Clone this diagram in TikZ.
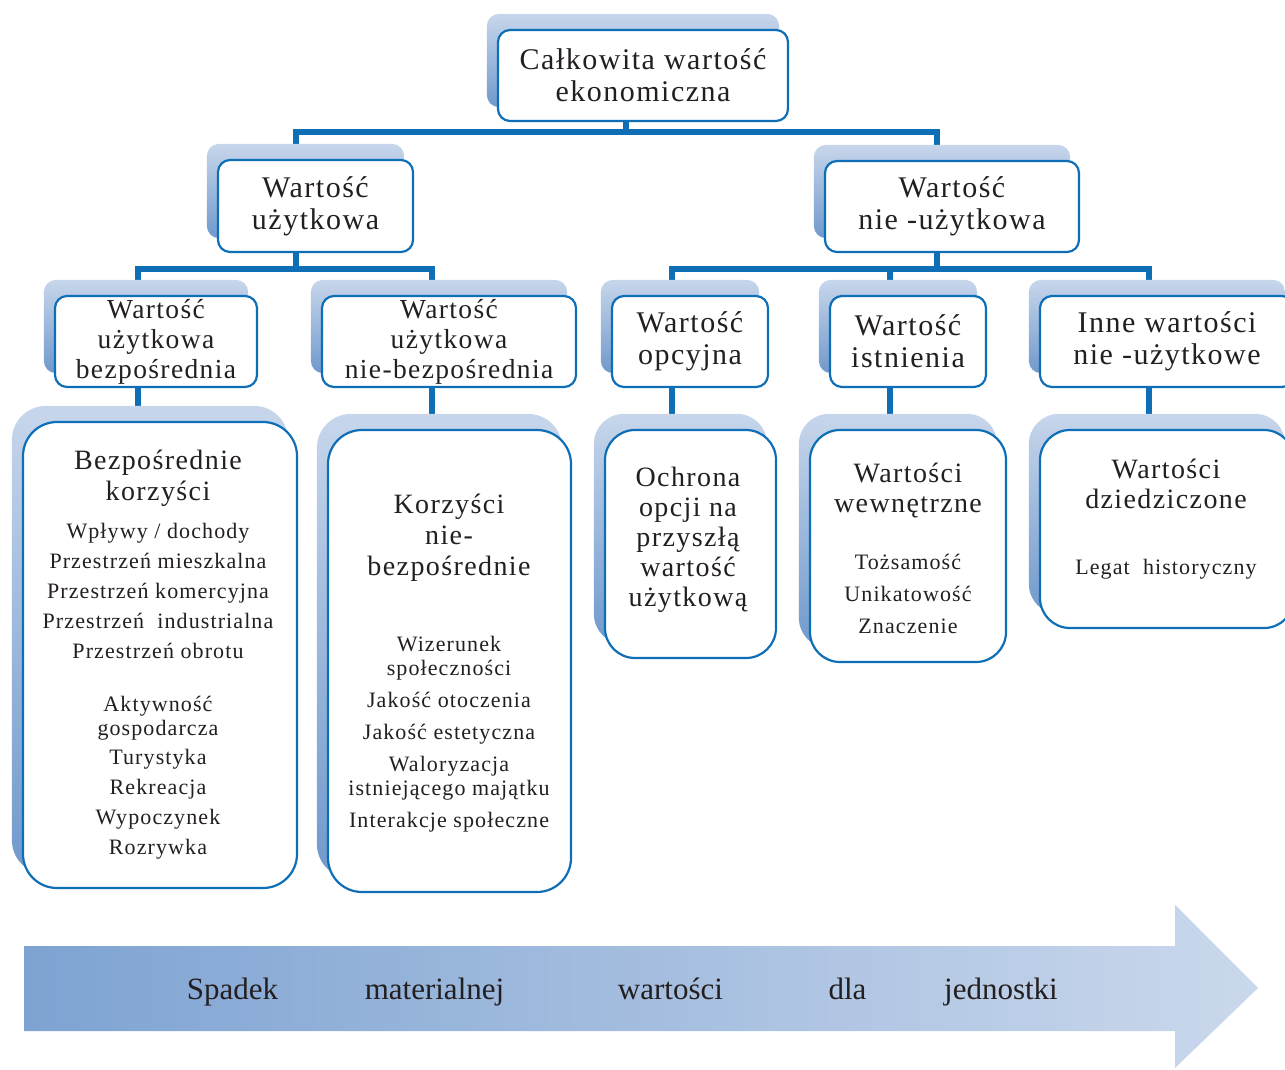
\documentclass[tikz,border=0pt]{standalone}
\usepackage{fontspec}
\setmainfont[LetterSpace=5]{Liberation Serif}
\newfontfamily\arrowfont{Liberation Serif}
\usetikzlibrary{calc}
\definecolor{bblue}{HTML}{0E6FB7}
\definecolor{shtop}{HTML}{C7D6EB}
\definecolor{shbot}{HTML}{7099CC}
\definecolor{txt}{HTML}{231F20}
\definecolor{arL}{HTML}{7EA3D2}
\definecolor{arR}{HTML}{CAD8EC}
\pgfdeclarelayer{bg}
\pgfsetlayers{bg,main}
\newcommand\fsA{\fontsize{30}{32}\selectfont}
\newcommand\fsB{\fontsize{27.5}{30}\selectfont}
\newcommand\fsH{\fontsize{28}{31}\selectfont}
\begin{document}
\begin{tikzpicture}[x=1pt,y=-1pt,
  box/.style={draw=bblue, line width=2.2pt, fill=white, rounded corners=12pt, text=txt, align=center, inner sep=0pt},
  bigbox/.style={box, rounded corners=34pt},
  conn/.style={draw=bblue, line width=6.5pt},
  shadowbox/.style={top color=shtop, bottom color=shbot, draw=none},
  txtnode/.style={text=txt, align=center, inner sep=0pt},
  arrowtxt/.style={text=txt, inner sep=0pt, anchor=base, font=\arrowfont\fontsize{31}{36}\selectfont},
]
\useasboundingbox (0,0) rectangle (1285,1070);

% arrow
\path[left color=arL, right color=arR] (24,946) -- (1175,946) -- (1175,905) -- (1258,988) -- (1175,1068) -- (1175,1031) -- (24,1031) -- cycle;
\node[arrowtxt] (s1) at (232.5,999) {Spadek};
\node[arrowtxt] (s2) at (434.5,999) {materialnej};
\node[arrowtxt] (s3) at (670.5,999) {wartości};
\node[arrowtxt] (s4) at (847.5,999) {dla};
\node[arrowtxt] (s5) at (1001,999) {jednostki};

% level 1-3 boxes
\node[box, minimum width=290, minimum height=91, font=\fsA] (top) at (643,75.5) {Całkowita wartość\\ekonomiczna};
\node[box, minimum width=195, minimum height=92, font=\fsA] (uz) at (315.5,206) {Wartość\\użytkowa};
\node[box, minimum width=254, minimum height=91, font=\fsA] (nuz) at (952,206.5) {Wartość\\nie -użytkowa};
\node[box, minimum width=202, minimum height=91, font=\fsB] (A) at (156,341.5) {Wartość\\użytkowa\\bezpośrednia};
\node[box, minimum width=254, minimum height=91, font=\fsB] (B) at (449,341.5) {Wartość\\użytkowa\\nie-bezpośrednia};
\node[box, minimum width=156, minimum height=91, font=\fsA] (C) at (690,341.5) {Wartość\\opcyjna};
\node[box, minimum width=156, minimum height=91, font=\fsA] (D) at (908,341.5) {Wartość\\istnienia};
\node[box, minimum width=254, minimum height=91, font=\fsA] (E) at (1167,341.5) {Inne wartości\\nie -użytkowe};

% level 4 boxes
\node[bigbox, minimum width=274, minimum height=466] (A4) at (160,655) {};
\node[bigbox, minimum width=243, minimum height=462] (B4) at (449.5,661) {};
\node[bigbox, rounded corners=30pt, minimum width=171, minimum height=228] (C4) at (690.5,544) {};
\node[bigbox, rounded corners=30pt, minimum width=196, minimum height=232] (D4) at (908,546) {};
\node[bigbox, rounded corners=30pt, minimum width=254, minimum height=198] (E4) at (1167,529) {};

% level 4 texts
\node[txtnode, font=\fontsize{22}{30}\selectfont] (A4t) at (158,655) {{\fsH Bezpośrednie}\\[1pt]{\fsH korzyści}\\[8pt]Wpływy / dochody\\Przestrzeń mieszkalna\\Przestrzeń komercyjna\\Przestrzeń~ industrialna\\Przestrzeń obrotu\\[23pt]Aktywność\\[-6pt]gospodarcza\\[-1pt]Turystyka\\Rekreacja\\Wypoczynek\\Rozrywka};
\node[txtnode, font=\fontsize{22}{32}\selectfont] (B4t) at (449,663) {{\fsH Korzyści}\\[-1pt]{\fsH nie-}\\[-1pt]{\fsH bezpośrednie}\\[44pt]Wizerunek\\[-8pt]społeczności\\Jakość otoczenia\\Jakość estetyczna\\Waloryzacja\\[-8pt]istniejącego majątku\\Interakcje społeczne};
\node[txtnode, font=\fontsize{28}{30}\selectfont] (C4t) at (688,540) {Ochrona\\opcji na\\przyszłą\\wartość\\użytkową};
\node[txtnode, font=\fontsize{22}{32}\selectfont] (D4t) at (908,548.5) {{\fsH Wartości}\\[-2pt]{\fsH wewnętrzne}\\[25pt]Tożsamość\\Unikatowość\\Znaczenie};
\node[txtnode, font=\fontsize{22}{30}\selectfont] (E4t) at (1166,519) {{\fsH Wartości}\\{\fsH dziedziczone}\\[36pt]Legat~ historyczny};

\begin{pgfonlayer}{bg}
  % connectors
  \draw[conn] ([xshift=-17pt]top.south) -- ++(0,10) -| ([xshift=-19.5pt]uz.north);
  \draw[conn] ([xshift=-17pt]top.south) -- ++(0,10) -| ([xshift=-15pt]nuz.north);
  \draw[conn] ([xshift=-19.5pt]uz.south) -- ++(0,16) -| ([xshift=-18pt]A.north);
  \draw[conn] ([xshift=-19.5pt]uz.south) -- ++(0,16) -| ([xshift=-17pt]B.north);
  \draw[conn] ([xshift=-15pt]nuz.south) -- ++(0,16) -| ([xshift=-18pt]C.north);
  \draw[conn] ([xshift=-15pt]nuz.south) -- ++(0,16) -| ([xshift=-18pt]D.north);
  \draw[conn] ([xshift=-15pt]nuz.south) -- ++(0,16) -| ([xshift=-18pt]E.north);
  \draw[conn] ([xshift=-18pt]A.south) -- ([xshift=-18pt]A.south |- A4.north);
  \draw[conn] ([xshift=-17pt]B.south) -- ([xshift=-17pt]B.south |- B4.north);
  \draw[conn] ([xshift=-18pt]C.south) -- ([xshift=-18pt]C.south |- C4.north);
  \draw[conn] ([xshift=-18pt]D.south) -- ([xshift=-18pt]D.south |- D4.north);
  \draw[conn] ([xshift=-18pt]E.south) -- ([xshift=-18pt]E.south |- E4.north);
  % shadows
  \foreach \n in {top,uz,nuz,A,B,C,D,E}
    \path[shadowbox, rounded corners=12pt] ([shift={(-10,-15)}]\n.south west) rectangle ([shift={(-10,-15)}]\n.north east);
  \foreach \n in {A4,B4}
    \path[shadowbox, rounded corners=34pt] ([shift={(-10,-15)}]\n.south west) rectangle ([shift={(-10,-15)}]\n.north east);
  \foreach \n in {C4,D4,E4}
    \path[shadowbox, rounded corners=30pt] ([shift={(-10,-15)}]\n.south west) rectangle ([shift={(-10,-15)}]\n.north east);
\end{pgfonlayer}
\end{tikzpicture}
\end{document}
